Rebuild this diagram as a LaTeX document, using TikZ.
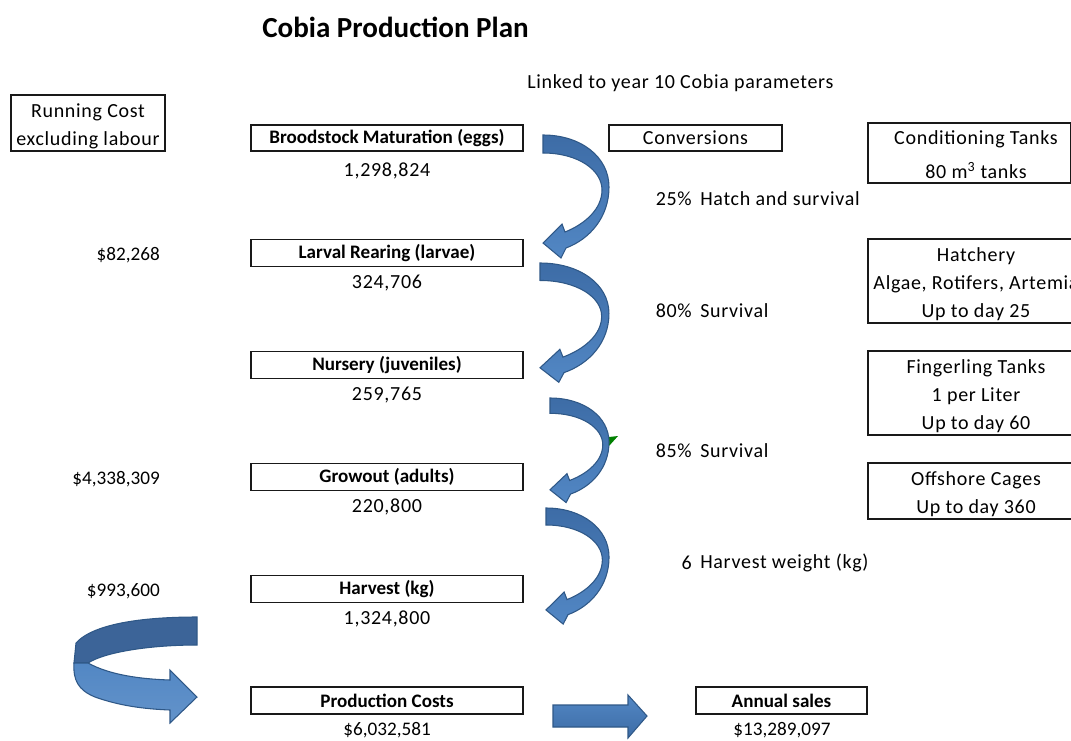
\documentclass[tikz,border=0pt]{standalone}
\usepackage{fontspec}
\setmainfont{Carlito}
\newfontfamily\regfont[LetterSpace=3.5]{Carlito}
\definecolor{arrowtop}{HTML}{3D6CA6}
\definecolor{arrowbot}{HTML}{5287C4}
\definecolor{arrowback}{HTML}{3C6498}
\definecolor{arrowedge}{HTML}{2F5887}
\definecolor{flag}{HTML}{008000}
\begin{document}
\begin{tikzpicture}[x=0.75pt,y=-0.75pt,
  body/.style={font=\fontsize{15}{21}\regfont, inner sep=0pt, text=black, align=center},
  money/.style={body, font=\fontsize{14.4}{21}\selectfont},
  cell/.style={draw=black!90, line width=1pt, inner sep=0pt},
  stage/.style={cell, minimum width=204pt, minimum height=20.25pt, text=black, font=\fontsize{14.3}{21}\selectfont\bfseries},
  side/.style={cell, minimum width=162pt},
  bluearrow/.style={draw=arrowedge, line width=0.8pt, top color=arrowtop, bottom color=arrowbot},
  bendarrow/.pic={
    \path[bluearrow] (0,0) .. controls (38,0) and (66,22) .. (66,52)
      .. controls (66,82) and (47,104) .. (23,113) -- (18,123) -- (0,108)
      -- (19,89) -- (22,97) .. controls (42,89) and (59,74) .. (59,55)
      .. controls (59,35) and (35,18) .. (0,18) -- cycle;
  }]
\useasboundingbox (0,0) rectangle (1071,740);
\clip (0,0) rectangle (1071,740);

% title and header
\node[inner sep=0pt, anchor=west, font=\fontsize{21.8}{25}\selectfont\bfseries] (title) at (262,27) {Cobia Production Plan};
\node[body, anchor=west] (linked) at (527,83) {Linked to year 10 Cobia parameters};
\node[cell, minimum width=115.5pt, minimum height=42pt] (running) at (88,123) {};
\node[body] (runningtxt) at (88,126) {Running Cost\\excluding labour};
\node[cell, minimum width=129.75pt, minimum height=19.5pt, font=\fontsize{15}{21}\regfont] (conv) at (695.5,138) {Conversions};

% production stages
\node[stage, minimum height=19.5pt] (brood) at (387,138) {Broodstock Maturation (eggs)};
\node[body] (broodn) at (387,171) {1,298,824};
\node[stage] (larval) at (387,253) {Larval Rearing (larvae)};
\node[body] (larvaln) at (387,283) {324,706};
\node[stage] (nursery) at (387,365) {Nursery (juveniles)};
\node[body] (nurseryn) at (387,395) {259,765};
\node[stage] (growout) at (387,477) {Growout (adults)};
\node[body] (growoutn) at (387,507) {220,800};
\node[stage] (harvest) at (387,589) {Harvest (kg)};
\node[body] (harvestn) at (387,619) {1,324,800};
\node[stage] (prod) at (387,700.5) {Production Costs};
\node[money] (prodn) at (387,730) {\$6,032,581};
\node[stage, minimum width=128.25pt] (sales) at (781.5,700.5) {Annual sales};
\node[money] (salesn) at (782,730) {\$13,289,097};

% running costs
\node[money, anchor=east] (costlarval) at (160,255) {\$82,268};
\node[money, anchor=east] (costgrow) at (160,479) {\$4,338,309};
\node[money, anchor=east] (costharv) at (160,591) {\$993,600};

% conversion factors
\node[body, anchor=east] (c1) at (692,199) {25\%};
\node[body, anchor=west] (c1t) at (700,199) {Hatch and survival};
\node[body, anchor=east] (c2) at (692,311) {80\%};
\node[body, anchor=west] (c2t) at (700,311) {Survival};
\node[body, anchor=east] (c3) at (692,451) {85\%};
\node[body, anchor=west] (c3t) at (700,451) {Survival};
\node[body, anchor=east] (c4) at (692,563) {6};
\node[body, anchor=west] (c4t) at (700,563) {Harvest weight (kg)};

% facilities
\node[side, minimum height=45pt] (cond) at (976,153) {};
\node[body, font=\fontsize{15}{25.5}\regfont] (condtxt) at (976,155) {Conditioning Tanks\\80 m\textsuperscript{3} tanks};
\draw[black!90, line width=1pt] (1070.3,123) -- (1070.3,183);
\node[side, minimum height=63pt] (hatch) at (976,281) {};
\node[body] (hatchtxt) at (976,284.5) {Hatchery\\Algae, Rotifers, Artemia\\Up to day 25};
\node[side, minimum height=63pt] (finger) at (976,393) {};
\node[body] (fingertxt) at (976,396.5) {Fingerling Tanks\\1 per Liter\\Up to day 60};
\node[side, minimum height=42pt] (cages) at (976,491) {};
\node[body] (cagestxt) at (976,494) {Offshore Cages\\Up to day 360};

% cell marker
\fill[flag] (609,437) -- (618,436) -- (609,446) -- cycle;

% bent arrows between stages
\pic at (543,135) {bendarrow};
\pic[xscale=1.045, yscale=0.97] at (540,263) {bendarrow};
\pic[xscale=0.894, yscale=0.85] at (550,398) {bendarrow};
\pic[xscale=0.955, yscale=0.944] at (546,508) {bendarrow};

% ribbon arrow into production costs
\path[draw=arrowedge, line width=0.8pt, fill=arrowback]
  (197,617) .. controls (150,617) and (95,622) .. (76,643) -- (74,663) -- (88,663)
  .. controls (105,652) and (150,645) .. (197,645) -- cycle;
\path[bluearrow, top color=arrowbot, bottom color=arrowbot!90!white]
  (74,663) .. controls (73,680) and (78,690) .. (95,697)
  .. controls (120,706) and (145,709) .. (170,710) -- (170,723) -- (197,697)
  -- (170,670) -- (170,680) .. controls (140,679) and (110,675) .. (88,663) -- cycle;

% straight arrow to annual sales
\path[bluearrow, top color=arrowbot, bottom color=arrowtop]
  (553,705) -- (628,705) -- (628,695) -- (647,716) -- (628,738) -- (628,727) -- (553,727) -- cycle;
\end{tikzpicture}
\end{document}
